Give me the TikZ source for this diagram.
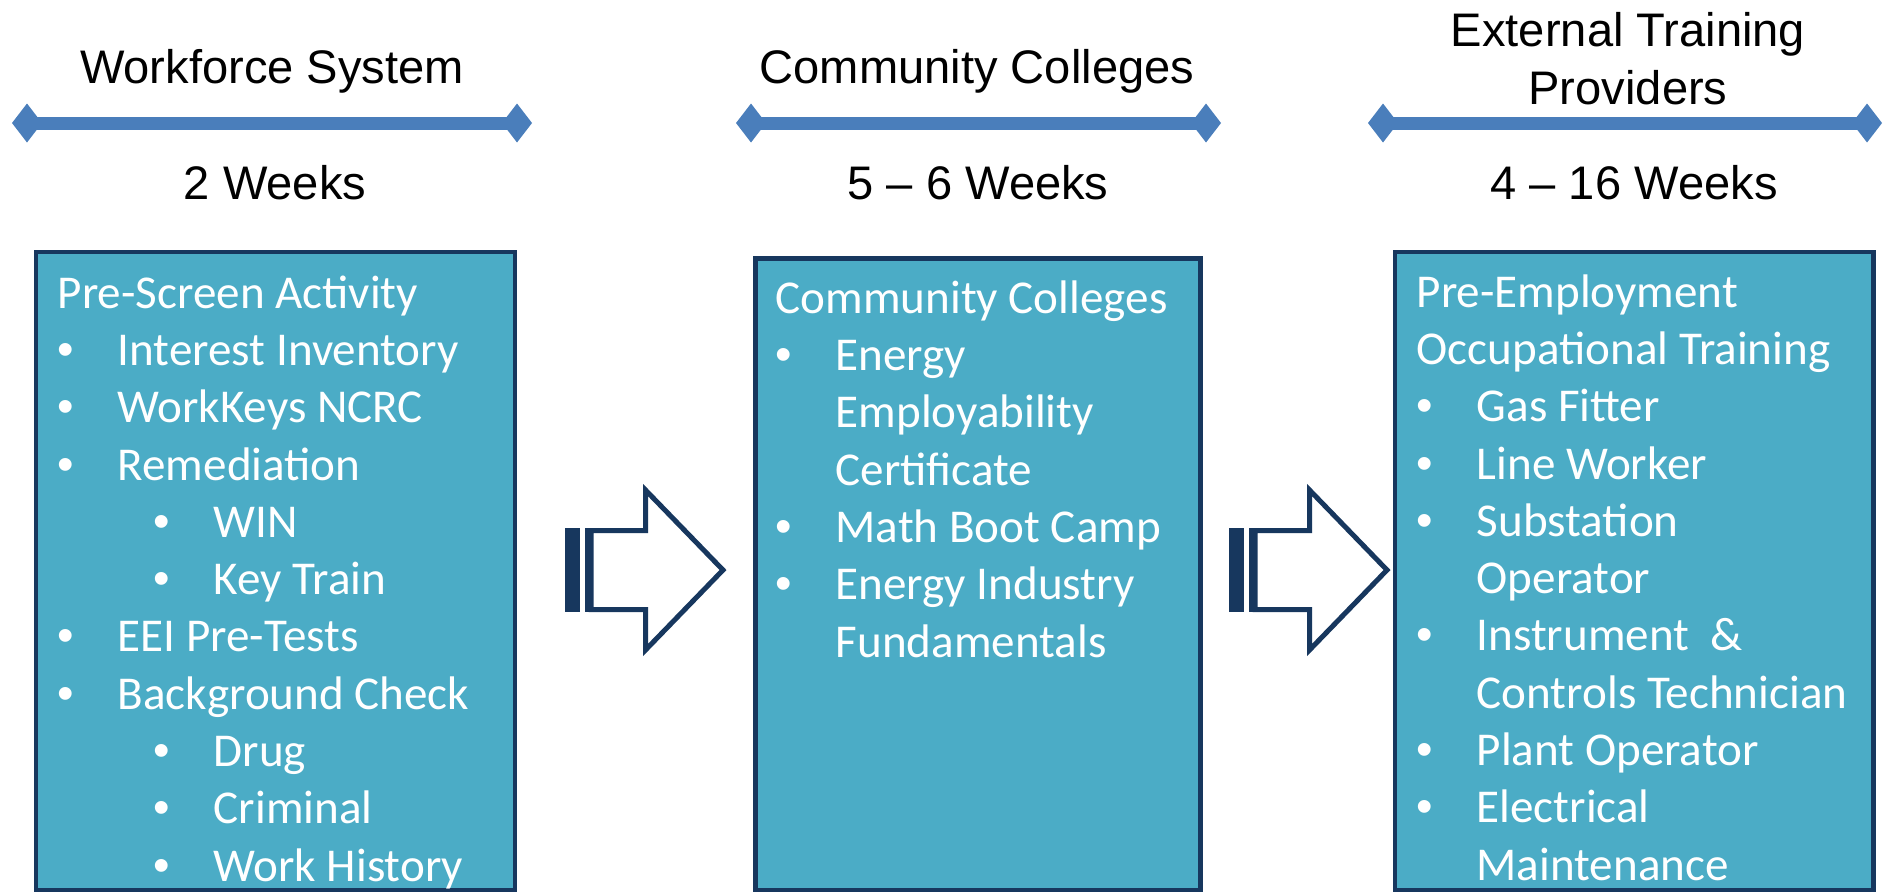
\documentclass[tikz,border=0pt]{standalone}
\usepackage{fontspec}
\setmainfont{Carlito}
\newfontfamily\headfont{Liberation Sans}
\usepackage{tikz}
\usetikzlibrary{arrows.meta}
\definecolor{boxteal}{HTML}{4BACC6}
\definecolor{boxnavy}{HTML}{17375E}
\definecolor{spanblue}{HTML}{4A7EBB}

\newcommand{\bulglyph}{{\headfont\char"2022}}
\newcommand{\bitem}[1]{\makebox[0.60cm][l]{\bulglyph}#1}
\newcommand{\sitem}[1]{\hspace*{0.96cm}\makebox[0.60cm][l]{\bulglyph}#1}
\newcommand{\citem}[1]{\hspace*{0.60cm}#1}

\begin{document}
\begin{tikzpicture}[
  stagehdr/.style={font=\headfont\fontsize{13.4}{16.3}\selectfont,
                   align=center, inner sep=0pt, anchor=base},
  stagebox/.style={rectangle, draw=boxnavy, fill=boxteal, line width=0.045cm,
                   outer sep=0pt, anchor=north west},
  stagetext/.style={font=\fontsize{13.4}{16.3}\selectfont, text=white,
                    align=left, inner sep=0pt, anchor=base west},
  spanline/.style={draw=spanblue, line width=0.13cm,
                   {Diamond[length=0.30cm, width=0.39cm]}-{Diamond[length=0.30cm, width=0.39cm]}},
  stripedarrow/.pic={
    \fill[boxnavy] (0,-0.42) rectangle (0.15,0.42);
    \fill[boxnavy] (0.20,-0.42) rectangle (0.26,0.42);
    \draw[boxnavy, fill=white, line width=0.05cm]
      (0.26,0.395) -- (0.805,0.395) -- (0.805,0.80) -- (1.58,0)
      -- (0.805,-0.80) -- (0.805,-0.395) -- (0.26,-0.395) -- cycle;
  }
]
\useasboundingbox (0,0) rectangle (18.83,-8.94);

% === Workforce System (left) =================================================
% (multi-line nodes sit on the baseline of their last line)
\node[stagehdr]  (WS)    at (2.72,-0.83) {Workforce System};
\coordinate      (WSa)   at (0.12,-1.23);
\coordinate      (WSb)   at (5.32,-1.23);
\draw[spanline] (WSa) -- (WSb);
\node[stagehdr]  (WSdur) at (2.75,-1.99) {2 Weeks};

\node[stagebox, minimum width=4.79cm, minimum height=6.38cm] (B1) at (0.36,-2.52) {};
\node[stagetext] (T1) at (0.57,-8.81) {Pre-Screen Activity\\
  \bitem{Interest Inventory}\\
  \bitem{WorkKeys NCRC}\\
  \bitem{Remediation}\\
  \sitem{WIN}\\
  \sitem{Key Train}\\
  \bitem{EEI Pre-Tests}\\
  \bitem{Background Check}\\
  \sitem{Drug}\\
  \sitem{Criminal}\\
  \sitem{Work History}};

% === Community Colleges (middle) =============================================
\node[stagehdr]  (CC)    at (9.77,-0.83) {Community Colleges};
\coordinate      (CCa)   at (7.36,-1.23);
\coordinate      (CCb)   at (12.21,-1.23);
\draw[spanline] (CCa) -- (CCb);
\node[stagehdr]  (CCdur) at (9.78,-1.99) {5 – 6 Weeks};

\node[stagebox, minimum width=4.45cm, minimum height=6.315cm] (B2) at (7.555,-2.585) {};
\node[stagetext] (T2) at (7.75,-6.57) {Community Colleges\\
  \bitem{Energy}\\
  \citem{Employability}\\
  \citem{Certificate}\\
  \bitem{Math Boot Camp}\\
  \bitem{Energy Industry}\\
  \citem{Fundamentals}};

% === External Training Providers (right) =====================================
\node[stagehdr]  (ET)    at (16.28,-1.04) {External Training\\Providers};
\coordinate      (ETa)   at (13.68,-1.23);
\coordinate      (ETb)   at (18.82,-1.23);
\draw[spanline] (ETa) -- (ETb);
\node[stagehdr]  (ETdur) at (16.34,-1.99) {4 – 16 Weeks};

\node[stagebox, minimum width=4.785cm, minimum height=6.38cm] (B3) at (13.95,-2.52) {};
\node[stagetext] (T3) at (14.16,-8.80) {Pre-Employment\\
  Occupational Training\\
  \bitem{Gas Fitter}\\
  \bitem{Line Worker}\\
  \bitem{Substation}\\
  \citem{Operator}\\
  \bitem{Instrument\ \ \&}\\
  \citem{Controls Technician}\\
  \bitem{Plant Operator}\\
  \bitem{Electrical}\\
  \citem{Maintenance}};

% === Striped arrows between stages ===========================================
\pic at (5.65,-5.70)  {stripedarrow};
\pic at (12.29,-5.70) {stripedarrow};

\end{tikzpicture}
\end{document}
